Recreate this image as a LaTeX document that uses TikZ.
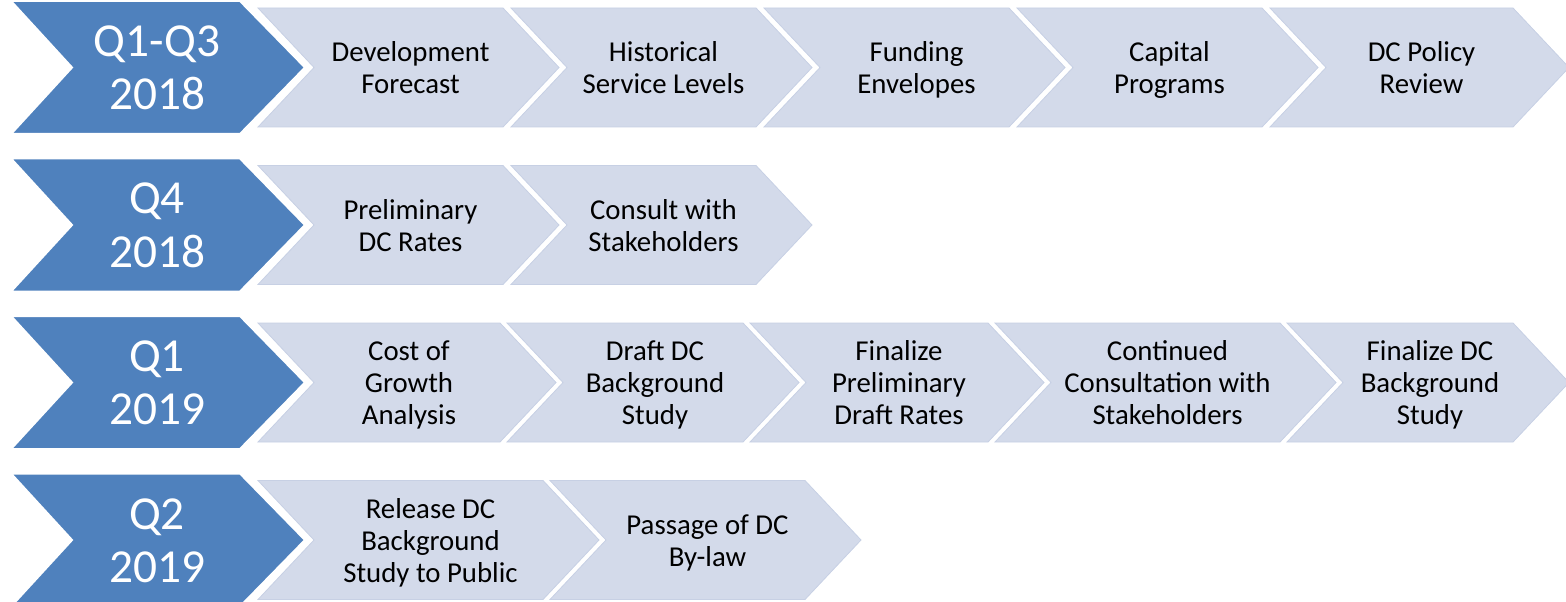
\documentclass[tikz,border=0pt]{standalone}
\usepackage{fontspec}
\setmainfont{Carlito}
\definecolor{phaseblue}{HTML}{4F81BD}
\definecolor{stepfill}{HTML}{D3DAEA}
\definecolor{stepedge}{HTML}{C7D0E4}
\tikzset{
  phaseshape/.style={fill=phaseblue, draw=white, line width=1.5pt, line join=miter},
  stepshape/.style={fill=stepfill, draw=stepedge, line width=0.6pt, line join=miter},
  phasetext/.style={text=white, align=center, inner sep=0pt,
    font=\fontsize{35.5}{40}\selectfont},
  steptext/.style={text=black, align=center, inner sep=0pt,
    font=\fontsize{21.6}{24}\selectfont},
}
% dark phase chevron: name, vertical centre, label
\newcommand{\phasechev}[3]{%
  \path[phaseshape] (11,{#2-66.5}) -- (240,{#2-66.5}) -- (305,#2)
    -- (240,{#2+66.5}) -- (11,{#2+66.5}) -- (72,#2) -- cycle;
  \node[phasetext] (#1) at (157,{#2+5}) {\strut#3\strut};
}
% light step chevron: name, left x, right x, vertical centre, label
\newcommand{\stepchev}[5]{%
  \path[stepshape] (#2,{#4-59.5}) -- (#3,{#4-59.5}) -- ({#3+56},#4)
    -- (#3,{#4+59.5}) -- (#2,{#4+59.5}) -- ({#2+56},#4) -- cycle;
  \node[steptext] (#1) at ({(#2+56+#3)/2+2},{#4+4}) {\strut#5\strut};
}
\begin{document}
\begin{tikzpicture}[x=0.75pt,y=-0.75pt]
\useasboundingbox (0,0) rectangle (1566,602);

% 2018, first three quarters
\phasechev{p1}{67.5}{Q1-Q3\\2018}
\stepchev{s11}{258}{503}{67.5}{Development\\Forecast}
\stepchev{s12}{511}{756}{67.5}{Historical\\Service Levels}
\stepchev{s13}{764}{1009}{67.5}{Funding\\Envelopes}
\stepchev{s14}{1017}{1262}{67.5}{Capital\\Programs}
\stepchev{s15}{1270}{1513}{67.5}{DC Policy\\Review}

% 2018, fourth quarter
\phasechev{p2}{225}{Q4\\2018}
\stepchev{s21}{258}{503}{225}{Preliminary\\DC Rates}
\stepchev{s22}{511}{756}{225}{Consult with\\Stakeholders}

% 2019, first quarter
\phasechev{p3}{382.5}{Q1\\2019}
\stepchev{s31}{258}{500}{382.5}{Cost of\\Growth\\Analysis}
\stepchev{s32}{507}{743}{382.5}{Draft DC\\Background\\Study}
\stepchev{s33}{750}{988}{382.5}{Finalize\\Preliminary\\Draft Rates}
\stepchev{s34}{995}{1280}{382.5}{Continued\\Consultation with\\Stakeholders}
\stepchev{s35}{1287}{1513}{382.5}{Finalize DC\\Background\\Study}

% 2019, second quarter
\phasechev{p4}{540}{Q2\\2019}
\stepchev{s41}{258}{543}{540}{Release DC\\Background\\Study to Public}
\stepchev{s42}{550}{805}{540}{Passage of DC\\By-law}
\end{tikzpicture}
\end{document}
